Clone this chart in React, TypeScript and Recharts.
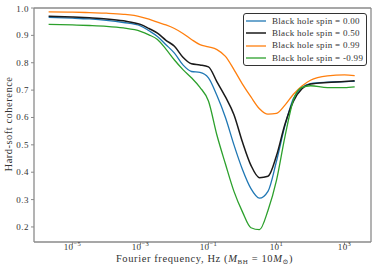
import React from 'react';
import { LineChart, Line, XAxis, YAxis, ReferenceLine } from 'recharts';

// log10 of Fourier frequency (Hz)
const logFreq = [-5.7, -5, -4.5, -4, -3.5, -3, -2.75, -2.5, -2.25, -2, -1.75, -1.5, -1.25, -1, -0.75, -0.5, -0.25, 0, 0.25, 0.5, 0.75, 1, 1.25, 1.5, 1.75, 2, 2.5, 3, 3.3];

const spin000 = [0.966, 0.963, 0.96, 0.955, 0.947, 0.935, 0.917, 0.896, 0.866, 0.835, 0.792, 0.768, 0.765, 0.745, 0.68, 0.6, 0.5, 0.41, 0.34, 0.305, 0.33, 0.44, 0.57, 0.67, 0.71, 0.724, 0.729, 0.731, 0.732];
const spin050 = [0.97, 0.967, 0.964, 0.96, 0.953, 0.94, 0.925, 0.908, 0.882, 0.86, 0.82, 0.796, 0.792, 0.785, 0.73, 0.675, 0.61, 0.51, 0.425, 0.38, 0.385, 0.46, 0.575, 0.66, 0.705, 0.722, 0.728, 0.731, 0.734];
const spin099 = [0.986, 0.985, 0.983, 0.981, 0.977, 0.968, 0.959, 0.948, 0.938, 0.925, 0.907, 0.885, 0.866, 0.858, 0.848, 0.823, 0.775, 0.722, 0.675, 0.632, 0.612, 0.615, 0.645, 0.685, 0.715, 0.736, 0.752, 0.756, 0.753];
const spinM099 = [0.94, 0.938, 0.936, 0.933, 0.927, 0.915, 0.902, 0.885, 0.85, 0.81, 0.775, 0.745, 0.71, 0.66, 0.535, 0.43, 0.33, 0.255, 0.197, 0.19, 0.26, 0.37, 0.53, 0.665, 0.71, 0.716, 0.709, 0.709, 0.712];

const xTicks = [-5, -3, -1, 1, 3];
const yTicks = [0.2, 0.3, 0.4, 0.5, 0.6, 0.7, 0.8, 0.9, 1.0];

const series = [
  { key: 'spin000', name: 'Black hole spin = 0.00', color: '#1f77b4', width: 1.3 },
  { key: 'spin050', name: 'Black hole spin = 0.50', color: '#1a1a1a', width: 1.5 },
  { key: 'spin099', name: 'Black hole spin = 0.99', color: '#ff7f0e', width: 1.3 },
  { key: 'spinM099', name: 'Black hole spin = -0.99', color: '#2ca02c', width: 1.3 },
];

const data = logFreq.map((f, i) => ({
  f,
  spin000: spin000[i],
  spin050: spin050[i],
  spin099: spin099[i],
  spinM099: spinM099[i],
}));

const FONT = '"Liberation Serif", "DejaVu Serif", serif';
const TEXT = '#333';
const SPINE = '#8a8a8a';

const XMIN = -6.13;
const XMAX = 3.78;
const YMIN = 0.145;
const YMAX = 1.0;

const LogTick = (props: any) => {
  const { x, y, payload } = props;
  const exp = payload.value < 0 ? '\u2212' + Math.abs(payload.value) : String(payload.value);
  return (
    <text x={x} y={y + 2.5} textAnchor="middle" fontSize={9} letterSpacing={0.4} fill={TEXT} fontFamily={FONT}>
      10<tspan dy={-4} fontSize={6.5}>{exp}</tspan>
    </text>
  );
};

const YTick = (props: any) => {
  const { x, y, payload } = props;
  return (
    <text x={x} y={y + 3} textAnchor="end" fontSize={9} letterSpacing={0.5} fill={TEXT} fontFamily={FONT}>
      {payload.value.toFixed(1)}
    </text>
  );
};

const YLabel = (props: any) => {
  const { viewBox } = props;
  const cx = 11.5;
  const cy = viewBox.y + viewBox.height / 2 - 1;
  return (
    <text x={cx} y={cy} transform={`rotate(-90, ${cx}, ${cy})`} textAnchor="middle" fontSize={10.5} letterSpacing={0.5} fill={TEXT} fontFamily={FONT}>
      Hard-soft coherence
    </text>
  );
};

const XLabel = (props: any) => {
  const { viewBox } = props;
  const cx = viewBox.x + viewBox.width / 2 + 2;
  const cy = 262;
  return (
    <text x={cx} y={cy} textAnchor="middle" fontSize={10.5} letterSpacing={0.6} fill={TEXT} fontFamily={FONT}>
      Fourier frequency, Hz (<tspan fontStyle="italic">M</tspan>
      <tspan dy={2} fontSize={7}>BH</tspan>
      <tspan dy={-2}> = 10</tspan>
      <tspan fontStyle="italic">M</tspan>
      <tspan dy={2} fontSize={7}>{'\u2299'}</tspan>
      <tspan dy={-2}>)</tspan>
    </text>
  );
};

const LegendBox = () => (
  <div
    style={{
      position: 'absolute',
      left: 243,
      top: 12.5,
      width: 120,
      height: 50,
      border: '1px solid #333',
      borderRadius: 3,
      background: '#fff',
      padding: '1.5px 0 0 2px',
      fontFamily: FONT,
      fontSize: 9,
      letterSpacing: 0.3,
      color: TEXT,
      lineHeight: '12.2px',
    }}
  >
    {series.map((s) => (
      <div key={s.key} style={{ display: 'flex', alignItems: 'center', whiteSpace: 'nowrap' }}>
        <svg width={20} height={6} style={{ marginRight: 6 }}>
          <line x1={0} y1={3} x2={20} y2={3} stroke={s.color} strokeWidth={s.width} />
        </svg>
        <span>{s.name}</span>
      </div>
    ))}
  </div>
);

export default function App() {
  return (
    <div style={{ position: 'absolute', left: 0, top: 0, width: 374, height: 274, background: '#fff' }}>
      <LineChart width={374} height={274} data={data} margin={{ top: 8, right: 3, left: 0, bottom: 0 }}>
        <XAxis
          dataKey="f"
          type="number"
          domain={[XMIN, XMAX]}
          ticks={xTicks}
          allowDataOverflow
          height={32}
          stroke={SPINE}
          tickSize={3}
          tick={<LogTick />}
          axisLine={{ stroke: SPINE, strokeWidth: 1.3 }}
          tickLine={{ stroke: SPINE }}
          label={<XLabel />}
        />
        <YAxis
          type="number"
          domain={[YMIN, YMAX]}
          ticks={yTicks}
          allowDataOverflow
          width={34}
          tickSize={3}
          tickMargin={2}
          tick={<YTick />}
          axisLine={{ stroke: SPINE, strokeWidth: 1.3 }}
          tickLine={{ stroke: SPINE }}
          label={<YLabel />}
        />
        <ReferenceLine y={YMAX} stroke={SPINE} strokeWidth={1.3} />
        <ReferenceLine x={XMAX} stroke={SPINE} strokeWidth={1.3} />
        {series.map((s) => (
          <Line
            key={s.key}
            dataKey={s.key}
            name={s.name}
            type="monotone"
            stroke={s.color}
            strokeWidth={s.width}
            dot={false}
            isAnimationActive={false}
          />
        ))}
      </LineChart>
      <LegendBox />
    </div>
  );
}
